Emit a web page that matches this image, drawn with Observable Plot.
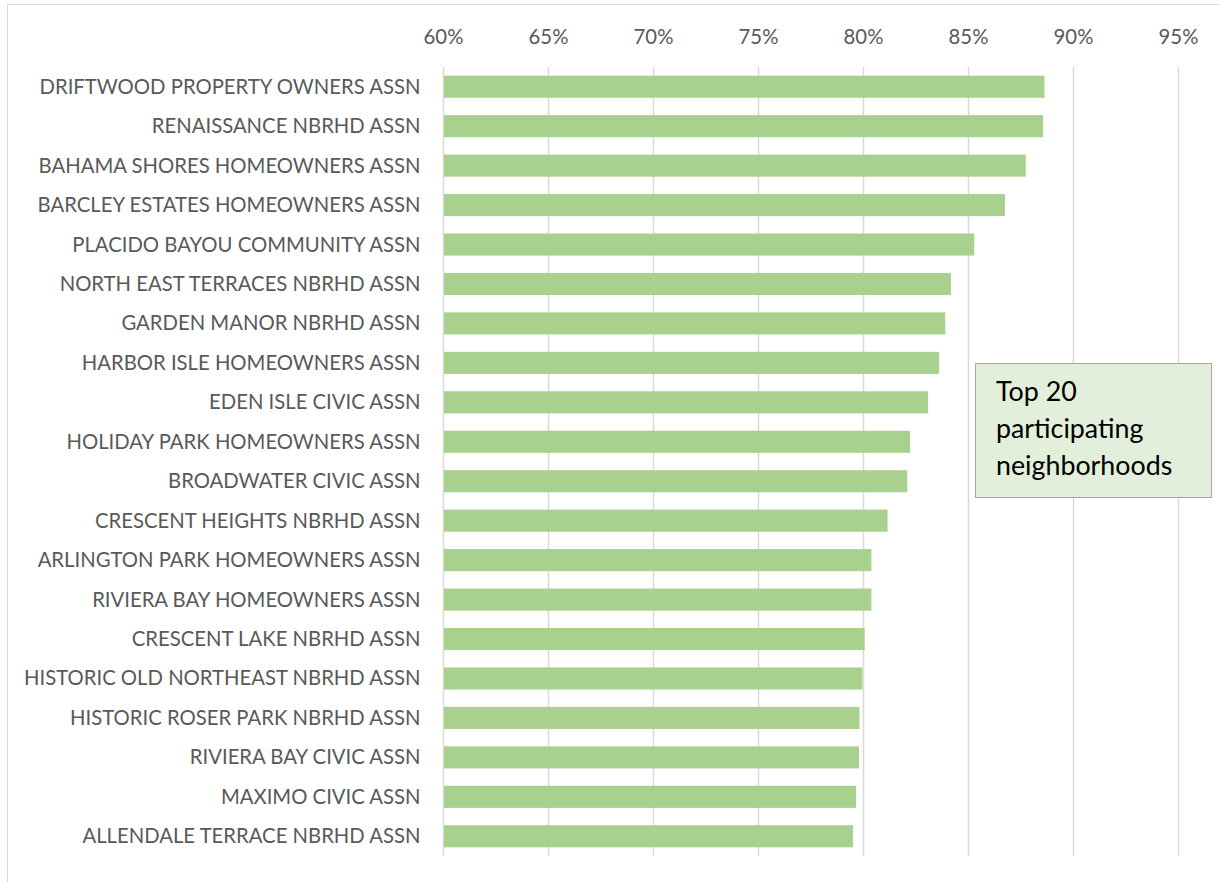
<!DOCTYPE html>
<html>
<head>
<meta charset="utf-8">
<script src="https://cdn.jsdelivr.net/npm/d3@7"></script>
<script src="https://cdn.jsdelivr.net/npm/@observablehq/plot@0.6"></script>
<style>
  html, body { margin: 0; padding: 0; background: #fff; }
  #wrap { position: relative; width: 1220px; height: 882px; overflow: hidden; }
  #frame { position: absolute; left: 7px; top: 4px; width: 1240px; height: 900px;
           border-left: 1.5px solid #d9d9d9; border-top: 1.5px solid #d9d9d9; box-sizing: border-box; }
  #chart { position: absolute; left: 0; top: 0; }
  #note { position: absolute; left: 975px; top: 363px; width: 237px; height: 135px; box-sizing: border-box;
          background: #e2efda; border: 1.5px solid #a6a6a6; padding: 9px 0 0 20px;
          font-family: Lato, "Open Sans", sans-serif; font-size: 26.8px; line-height: 37px; color: #000; }
</style>
</head>
<body>
<div id="wrap">
  <div id="frame"></div>
  <div id="chart"></div>
  <div id="note">Top 20<br>participating<br>neighborhoods</div>
</div>
<script>
const names = [
  "DRIFTWOOD PROPERTY OWNERS ASSN",
  "RENAISSANCE NBRHD ASSN",
  "BAHAMA SHORES HOMEOWNERS ASSN",
  "BARCLEY ESTATES HOMEOWNERS ASSN",
  "PLACIDO BAYOU COMMUNITY ASSN",
  "NORTH EAST TERRACES NBRHD ASSN",
  "GARDEN MANOR NBRHD ASSN",
  "HARBOR ISLE HOMEOWNERS ASSN",
  "EDEN ISLE CIVIC ASSN",
  "HOLIDAY PARK HOMEOWNERS ASSN",
  "BROADWATER CIVIC ASSN",
  "CRESCENT HEIGHTS NBRHD ASSN",
  "ARLINGTON PARK HOMEOWNERS ASSN",
  "RIVIERA BAY HOMEOWNERS ASSN",
  "CRESCENT LAKE NBRHD ASSN",
  "HISTORIC OLD NORTHEAST NBRHD ASSN",
  "HISTORIC ROSER PARK NBRHD ASSN",
  "RIVIERA BAY CIVIC ASSN",
  "MAXIMO CIVIC ASSN",
  "ALLENDALE TERRACE NBRHD ASSN"
];
const values = [
  0.8864, 0.8857, 0.8775, 0.8676, 0.8530, 0.8419, 0.8392, 0.8362, 0.8310, 0.8224,
  0.8211, 0.8117, 0.8040, 0.8040, 0.8008, 0.7997, 0.7983, 0.7981, 0.7967, 0.7952
];
const tickValues = [0.60, 0.65, 0.70, 0.75, 0.80, 0.85, 0.90, 0.95];
const xDomain = [0.60, 0.96];

const data = names.map((name, i) => ({name, value: values[i], base: xDomain[0]}));

const chart = Plot.plot({
  width: 1220,
  height: 882,
  marginTop: 67,
  marginBottom: 26,
  marginLeft: 443,
  marginRight: 21,
  style: {fontFamily: "Lato, 'Open Sans', sans-serif", fontSize: "20.3px", color: "#595959", background: "transparent"},
  x: {domain: xDomain, axis: null},
  y: {domain: names, paddingInner: 0.44, paddingOuter: 0.22, round: false, axis: null},
  marks: [
    Plot.ruleX(tickValues, {stroke: "#d9d9d9", strokeWidth: 1.5}),
    Plot.barX(data, {x1: "base", x2: "value", y: "name", fill: "#a9d18e", insetLeft: 1}),
    Plot.axisX({anchor: "top", ticks: tickValues, tickFormat: d3.format(".0%"), tickSize: 0, tickPadding: 24, fontSize: 20.3, label: null}),
    Plot.axisY({tickSize: 0, tickPadding: 23, fontSize: 20.3, label: null})
  ]
});
document.getElementById("chart").appendChild(chart);
</script>
</body>
</html>
